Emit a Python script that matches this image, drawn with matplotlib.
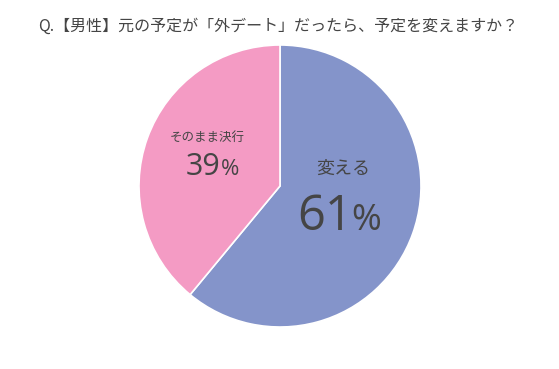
import matplotlib.pyplot as plt

plt.rcParams['font.family'] = ['Noto Sans CJK JP', 'DejaVu Sans']

labels = ['変える', 'そのまま決行']
values = [61, 39]
colors = ['#8494ca', '#f49bc4']
title = 'Q.【男性】元の予定が「外デート」だったら、予定を変えますか？'

W, H = 559, 369
fig = plt.figure(figsize=(W / 100, H / 100), dpi=100)
ax = fig.add_axes([139 / W, (H - 186 - 141) / H, 282 / W, 282 / H])
ax.pie(values, colors=colors, startangle=90, counterclock=False,
       wedgeprops=dict(edgecolor='white', linewidth=1.2))
ax.set_xlim(-1, 1)
ax.set_ylim(-1, 1)
ax.set_aspect('equal')

txt = '#454545'
fig.text(278 / W, 1 - 26 / H, title, ha='center', va='center', fontsize=11.5, color=txt)


def px(x, y):
    return x / W, 1 - y / H


num = ['Open Sans', 'DejaVu Sans']

# big slice label
fig.text(*px(343, 169), labels[0], ha='center', va='center', fontsize=13, color=txt)
fig.text(*px(297, 230), f'{values[0]}', ha='left', va='baseline', fontsize=35,
         color=txt, family=num)
fig.text(*px(351, 230), '%', ha='left', va='baseline', fontsize=26, color=txt, family=num)

# small slice label
fig.text(*px(207, 137), labels[1], ha='center', va='center', fontsize=9, color=txt)
fig.text(*px(186, 175), f'{values[1]}', ha='left', va='baseline', fontsize=22,
         color=txt, family=num)
fig.text(*px(221, 175), '%', ha='left', va='baseline', fontsize=16, color=txt, family=num)

fig.savefig('out.png', dpi=100, facecolor='white')
